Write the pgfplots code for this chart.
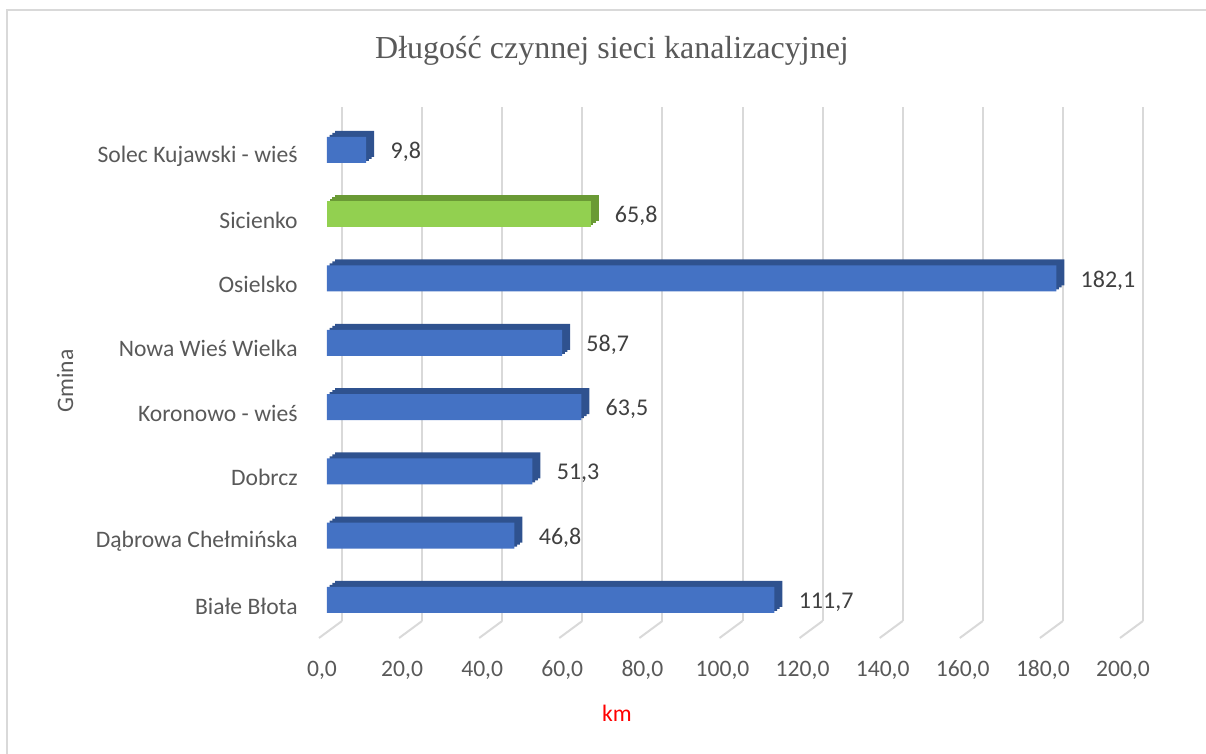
\documentclass[border=0pt]{standalone}
\usepackage{fontspec}
\setmainfont{Carlito}
\newfontfamily\titlefont{Liberation Serif}
\usepackage{pgfplots}
\pgfplotsset{compat=1.18}
\usepackage{pgfplotstable}
\definecolor{barblue}{HTML}{4472C4}
\definecolor{bardark}{HTML}{2F528F}
\definecolor{bargreen}{HTML}{92D050}
\definecolor{greendark}{HTML}{6A9A35}
\definecolor{gridgray}{HTML}{D9D9D9}
\definecolor{txt}{HTML}{595959}
\definecolor{lbl}{HTML}{404040}

\pgfplotstableread{
y val
0 111.7
1 46.8
2 51.3
3 63.5
4 58.7
5 182.1
7 9.8
}\bluedata
\pgfplotstableread{
y val
6 65.8
}\greendata

\begin{document}
\begin{tikzpicture}
\useasboundingbox (0,0) rectangle (603pt,377pt);
\draw[gridgray, line width=1pt] (3.5pt,0) -- (3.5pt,372pt) -- (603pt,372pt);
\node[anchor=base, text=txt, font=\titlefont\fontsize{16}{19}\selectfont] at (306pt,347.5pt) {Długość czynnej sieci kanalizacyjnej};
\node[rotate=90, text=txt, font=\fontsize{11.8}{14}\selectfont] at (32.5pt,186.5pt) {Gmina};
\node[text=red, font=\fontsize{11.8}{14}\selectfont] at (308.5pt,20.5pt) {km};
\begin{axis}[
  at={(171pt,66.5pt)}, anchor=south west,
  scale only axis, width=400.5pt, height=257pt,
  xmin=0, xmax=200, ymin=-0.3266, ymax=7.667,
  xtick={0,20,...,200}, ytick={0,...,7},
  yticklabels={Białe Błota, Dąbrowa Chełmińska, Dobrcz, Koronowo - wieś, Nowa Wieś Wielka, Osielsko, Sicienko, Solec Kujawski - wieś},
  axis line style={draw=none}, major tick length=0pt,
  xmajorgrids, grid style={gridgray, line width=1pt},
  clip=false,
  xticklabel style={font=\fontsize{11.8}{14}\selectfont, text=txt, anchor=base, xshift=-10pt, yshift=-28pt,
    /pgf/number format/.cd, fixed, fixed zerofill, precision=1, use comma, 1000 sep={}, assume math mode=true},
  yticklabel style={font=\fontsize{11.8}{14}\selectfont, text=txt, anchor=east, xshift=-22pt, yshift=-3pt, inner sep=0pt},
]
\pgfplotsinvokeforeach{0,20,...,200}{
  \draw[gridgray, line width=1pt] (axis cs:#1,-0.3266) -- ++(-11.5pt,-8.5pt);
}
% depth faces (top and right side), built in steps for a slanted edge
\addplot[xbar, bar width=13pt, bar shift=0pt, fill=bardark, draw=none, xshift=-3.5pt, yshift=3pt] table[x=val,y=y]{\bluedata};
\addplot[xbar, bar width=13pt, bar shift=0pt, fill=bardark, draw=none, xshift=-4.83pt, yshift=2pt] table[x=val,y=y]{\bluedata};
\addplot[xbar, bar width=13pt, bar shift=0pt, fill=bardark, draw=none, xshift=-6.17pt, yshift=1pt] table[x=val,y=y]{\bluedata};
\addplot[xbar, bar width=13pt, bar shift=0pt, fill=greendark, draw=none, xshift=-3.5pt, yshift=3pt] table[x=val,y=y]{\greendata};
\addplot[xbar, bar width=13pt, bar shift=0pt, fill=greendark, draw=none, xshift=-4.83pt, yshift=2pt] table[x=val,y=y]{\greendata};
\addplot[xbar, bar width=13pt, bar shift=0pt, fill=greendark, draw=none, xshift=-6.17pt, yshift=1pt] table[x=val,y=y]{\greendata};
% front faces
\addplot[xbar, bar width=13pt, bar shift=0pt, fill=barblue, draw=none, xshift=-7.5pt,
  point meta=x, nodes near coords,
  every node near coord/.append style={anchor=west, xshift=12pt, yshift=-1pt, inner sep=0pt, text=lbl, font=\fontsize{12}{14}\selectfont,
    /pgf/number format/.cd, fixed, fixed zerofill, precision=1, use comma, assume math mode=true}] table[x=val,y=y]{\bluedata};
\addplot[xbar, bar width=13pt, bar shift=0pt, fill=bargreen, draw=none, xshift=-7.5pt,
  point meta=x, nodes near coords,
  every node near coord/.append style={anchor=west, xshift=12pt, yshift=-1pt, inner sep=0pt, text=lbl, font=\fontsize{12}{14}\selectfont,
    /pgf/number format/.cd, fixed, fixed zerofill, precision=1, use comma, assume math mode=true}] table[x=val,y=y]{\greendata};
\end{axis}
\end{tikzpicture}
\end{document}
